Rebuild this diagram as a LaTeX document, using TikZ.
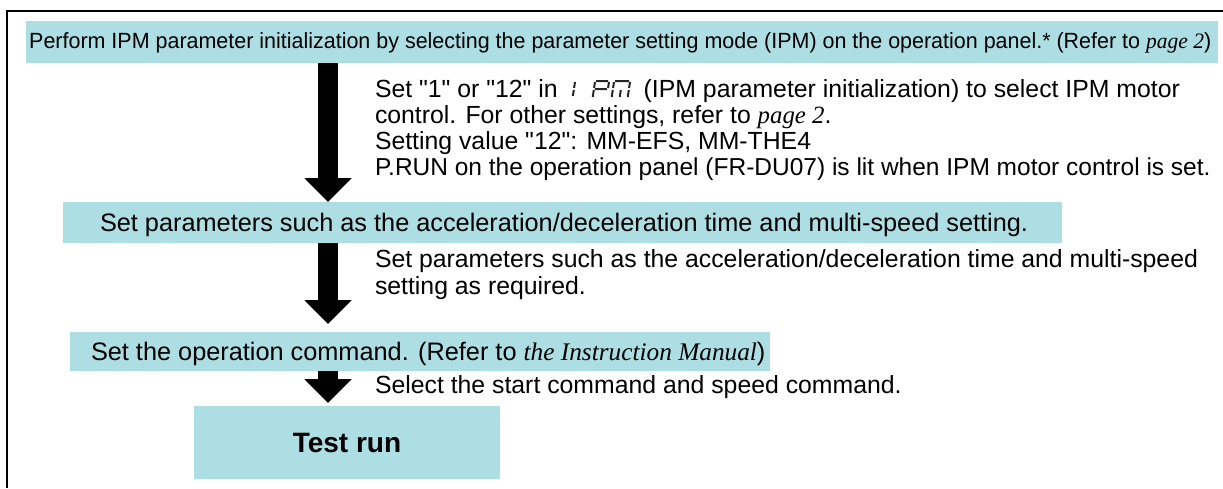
\documentclass[tikz,border=0pt]{standalone}
\usepackage{graphicx}
\usepackage{fontspec}
\setmainfont{Liberation Sans}[Ligatures=TeXOff]
\newfontfamily\tms{Liberation Serif}[Ligatures=TeXOff]
\usetikzlibrary{arrows.meta,calc}
\definecolor{bandcol}{RGB}{173,222,227}
\begin{document}
\begin{tikzpicture}[x=1pt,y=-1pt,
  bandbox/.style={fill=bandcol, draw=none, inner sep=0pt, outer sep=0pt, anchor=north west},
  body/.style={inner sep=0pt, outer sep=0pt, anchor=base west, font=\fontsize{24.8}{28}\selectfont},
  bandtext/.style={inner sep=0pt, outer sep=0pt, anchor=base west, font=\fontsize{25.3}{28}\selectfont},
  blockarrow/.style={line width=20pt, -{Triangle[width=46pt,length=24pt]}},
  seg/.style={line width=2pt, draw=black!85, line cap=butt}]
\useasboundingbox (0,0) rectangle (1223,488);
\draw[line width=2pt] (1223,11) -- (6.5,11) -- (6.5,488);

% bands
\node[bandbox, minimum width=1192pt, minimum height=42pt] (b1) at (26,21) {};
\node[bandbox, minimum width=999pt, minimum height=41pt] (b2) at (63,202) {};
\node[bandbox, minimum width=700pt, minimum height=39pt] (b3) at (70,332) {};
\node[bandbox, minimum width=306pt, minimum height=73pt,
      font=\bfseries\fontsize{28}{32}\selectfont] (tr) at (194,406) {Test run};

% band texts
\node[anchor=base west, inner sep=0pt] (t0) at (29,48)
  {\resizebox{1182pt}{\height}{\fontsize{22}{26}\selectfont Perform IPM parameter initialization by selecting the parameter setting mode (IPM) on the operation panel.* (Refer to {\tms\itshape page 2})}};
\node[bandtext] (tb2) at (100,231) {Set parameters such as the acceleration/deceleration time and multi-speed setting.};
\node[bandtext] (tb3) at (91,360) {Set the operation command. (Refer to {\tms\itshape the Instruction Manual})};

% arrows
\coordinate (ax) at (328,0);
\draw[blockarrow] (b1.south -| ax) -- (b2.north -| ax);
\draw[blockarrow] (b2.south -| ax) -- ($(b3.north -| ax)+(0,-8)$);
\draw[blockarrow] (b3.south -| ax) -- ($(tr.north -| ax)+(0,-3)$);

% text block 1
\node[body] (l1a) at (375,97) {Set "1" or "12" in};
\begin{scope}[shift={($(l1a.base east)+(9,0)$)}, y=1pt, xslant=0.15]
  \draw[seg] (6,15) -- (6,9) (6,7) -- (6,1);
  \draw[seg] (27,16) -- (39,16) (26,15) -- (26,9) (40,15) -- (40,9)
             (27,8) -- (39,8) (26,7) -- (26,0);
  \draw[seg] (46,16) -- (60,16) (45,15) -- (45,9) (45,7) -- (45,0)
             (61,15) -- (61,9) (61,7) -- (61,0) (53,7) -- (53,0);
\end{scope}
\node[body] (l1b) at ($(l1a.base east)+(86,0)$) {(IPM parameter initialization) to select IPM motor};
\node[body] (l2) at (375,123) {control. For other settings, refer to {\tms\itshape page 2}.};
\node[body] (l3) at (375,149) {Setting value "12": MM-EFS, MM-THE4};
\node[body, font=\fontsize{24.5}{28}\selectfont] (l4) at (375,175) {P.RUN on the operation panel (FR-DU07) is lit when IPM motor control is set.};

% text block 2
\node[body] (m1) at (375,267) {Set parameters such as the acceleration/deceleration time and multi-speed};
\node[body] (m2) at (375,294) {setting as required.};

% text 3
\node[body] (s1) at (375,393) {Select the start command and speed command.};
\end{tikzpicture}
\end{document}
